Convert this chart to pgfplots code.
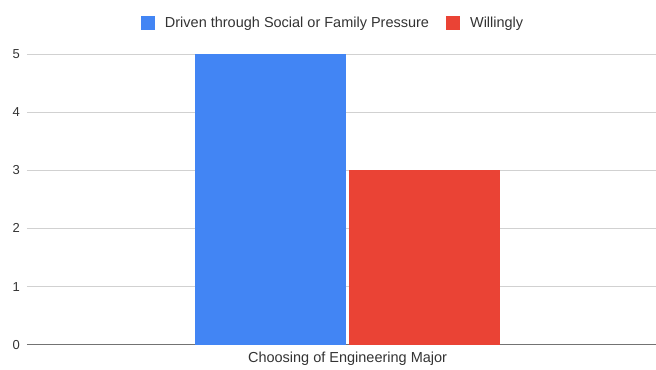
\documentclass[border=0pt]{standalone}
\usepackage{pgfplots}
\pgfplotsset{compat=1.18}
\usepackage{fontspec}
\setmainfont{Liberation Sans}
\definecolor{gblue}{HTML}{4285F4}
\definecolor{gred}{HTML}{EA4335}
\begin{document}
\begin{tikzpicture}
\begin{axis}[
  scale only axis,
  width=629pt, height=291pt,
  ybar=3pt, bar width=151pt,
  xmin=-1.02, xmax=0.98,
  ymin=0, ymax=5,
  xtick={0}, xticklabels={Choosing of Engineering Major},
  ytick={0,1,2,3,4,5},
  /pgf/number format/assume math mode=true,
  major tick length=0pt,
  axis x line*=bottom, axis y line*=left,
  y axis line style={draw=none},
  x axis line style={draw=black!55, line width=0.9pt},
  ymajorgrids, grid style={draw=black!18, line width=0.6pt},
  tick label style={font=\fontsize{13}{15}\selectfont, text=black!80},
  yticklabel style={inner sep=0pt, xshift=-7pt},
  xticklabel style={yshift=-4pt, font=\fontsize{14.5}{16}\selectfont},
  legend columns=-1,
  legend style={draw=none, fill=none, at={(rel axis cs:0.487,1.1065)}, anchor=center,
    font=\fontsize{14.5}{16}\selectfont, text=black!80,
    /tikz/every odd column/.append style={column sep=8pt},
    /tikz/every even column/.append style={column sep=15pt}},
  legend image code/.code={\path[#1,draw=none] (0pt,-7pt) rectangle (14pt,7pt);},
]
\addplot[fill=gblue, draw=none] coordinates {(0,5)};
\addplot[fill=gred, draw=none] coordinates {(0,3)};
\legend{Driven through Social or Family Pressure, Willingly}
\end{axis}
\path[use as bounding box] (-27pt,-25pt) rectangle (629pt,345pt);
\end{tikzpicture}
\end{document}
